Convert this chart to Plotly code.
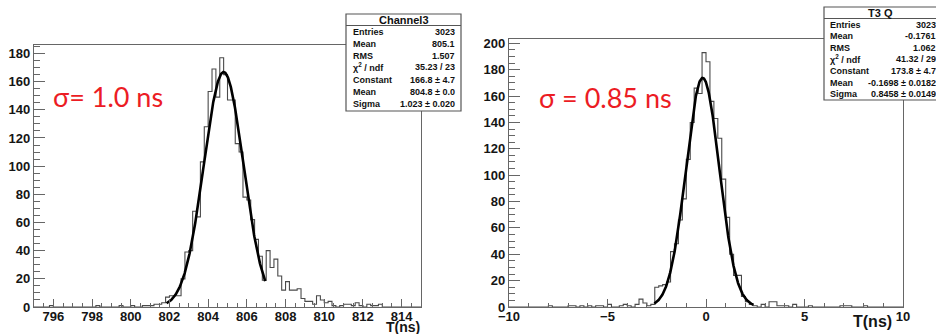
import numpy as np
import plotly.graph_objects as go

W, H = 936, 334

# ---------------- data ----------------
# Left histogram: 100 bins of 0.2 ns from 795 to 815 ns
left_bin_lo = 795.0
left_bin_width = 0.2
left_counts = [
    0, 0, 0, 0, 1, 0, 0, 0, 0, 0,
    0, 0, 0, 0, 0, 0, 1, 0, 0, 0,
    0, 0, 1, 0, 0, 1, 0, 0, 1, 1,
    1, 2, 2, 3, 7, 8, 8, 8, 20, 39,
    40, 68, 64, 103, 128, 153, 169, 149, 177, 165,
    147, 147, 116, 110, 78, 76, 62, 48, 36, 19,
    40, 28, 34, 22, 12, 18, 12, 12, 13, 6,
    4, 4, 2, 8, 5, 3, 4, 1, 0, 1,
    2, 2, 1, 3, 1, 0, 2, 1, 1, 2,
    0, 0, 0, 0, 0, 0, 0, 0, 0, 0,
]
# Right histogram: 100 bins of 0.2 ns from -10 to 10 ns
right_bin_lo = -10.0
right_bin_width = 0.2
right_counts = [
    0, 0, 0, 0, 0, 0, 0, 0, 0, 0,
    1, 0, 0, 0, 0, 1, 1, 0, 1, 0,
    1, 0, 1, 1, 0, 2, 0, 0, 1, 2,
    1, 0, 2, 6, 3, 1, 2, 15, 16, 17,
    19, 42, 48, 66, 82, 112, 140, 166, 162, 193,
    186, 156, 143, 128, 97, 68, 40, 24, 24, 8,
    4, 2, 1, 0, 2, 0, 4, 4, 1, 1,
    1, 0, 2, 0, 0, 0, 1, 0, 0, 0,
    0, 0, 0, 0, 1, 1, 1, 0, 0, 0,
    1, 0, 0, 0, 0, 0, 0, 0, 0, 0,
]

# Gaussian fit parameters (from the stat boxes) and drawn fit ranges
left_fit_constant, left_fit_mean, left_fit_sigma = 166.8, 804.8, 1.023
left_fit_range = [801.85, 806.95]
right_fit_constant, right_fit_mean, right_fit_sigma = 173.8, -0.1698, 0.8458
right_fit_range = [-2.62, 2.4]

# Axis settings
left_x_range = [795, 815]
left_y_range = [0, 186]
right_x_range = [-10, 10]
right_y_range = [0, 203.3]

# Stat boxes
left_stats_title = "Channel3"
left_stats_labels = ["Entries", "Mean", "RMS", "χ<sup>2</sup> / ndf", "Constant", "Mean", "Sigma"]
left_stats_values = ["3023", "805.1", "1.507", "35.23 / 23", "166.8 ± 4.7", "804.8 ± 0.0", "1.023 ± 0.020"]
right_stats_title = "T3 Q"
right_stats_labels = ["Entries", "Mean", "RMS", "χ<sup>2</sup> / ndf", "Constant", "Mean", "Sigma"]
right_stats_values = ["3023", "-0.1761", "1.062", "41.32 / 29", "173.8 ± 4.7", "-0.1698 ± 0.0182", "0.8458 ± 0.0149"]

left_note = "σ= 1.0 ns"
right_note = "σ = 0.85 ns"
axis_title = "T(ns)"

# ---------------- helpers ----------------
def px(x):
    return x / W

def py(y):
    return 1 - y / H

def step_xy(lo, w, counts):
    xs, ys = [lo], [0]
    for i, c in enumerate(counts):
        xs.append(lo + i * w)
        ys.append(c)
    end = lo + len(counts) * w
    xs += [end, end]
    ys += [counts[-1], 0]
    return xs, ys

def gauss_curve(c, m, s, rng):
    x = np.linspace(rng[0], rng[1], 300)
    return x, c * np.exp(-0.5 * ((x - m) / s) ** 2)

fig = go.Figure()

HCOL = "#4a4a4a"
lx, ly = step_xy(left_bin_lo, left_bin_width, left_counts)
fig.add_trace(go.Scatter(x=lx, y=ly, mode="lines", line=dict(color=HCOL, width=1.1, shape="hv"),
                         xaxis="x", yaxis="y", showlegend=False))
fx, fy = gauss_curve(left_fit_constant, left_fit_mean, left_fit_sigma, left_fit_range)
fig.add_trace(go.Scatter(x=fx, y=fy, mode="lines", line=dict(color="black", width=2.6),
                         xaxis="x", yaxis="y", showlegend=False))

rx, ry = step_xy(right_bin_lo, right_bin_width, right_counts)
fig.add_trace(go.Scatter(x=rx, y=ry, mode="lines", line=dict(color=HCOL, width=1.1, shape="hv"),
                         xaxis="x2", yaxis="y2", showlegend=False))
gx, gy = gauss_curve(right_fit_constant, right_fit_mean, right_fit_sigma, right_fit_range)
fig.add_trace(go.Scatter(x=gx, y=gy, mode="lines", line=dict(color="black", width=2.6),
                         xaxis="x2", yaxis="y2", showlegend=False))

FR = "#666666"
TICKFONT = dict(family="Liberation Sans, Arial, sans-serif", size=13, color="#151515", weight="bold")

def xaxis(domain, rng, dtick, tick0, mdtick, anchor):
    return dict(domain=domain, range=rng, anchor=anchor, showgrid=False, zeroline=False,
                showline=True, linecolor=FR, linewidth=1.2, mirror=True, automargin=False,
                ticks="inside", ticklen=8, tickwidth=1, tickcolor=FR, ticklabelstandoff=-3,
                dtick=dtick, tick0=tick0, tickfont=TICKFONT,
                minor=dict(ticks="inside", ticklen=4, dtick=mdtick, tick0=rng[0], tickcolor=FR, showgrid=False))

def yaxis(domain, rng, anchor):
    return dict(domain=domain, range=rng, anchor=anchor, showgrid=False, zeroline=False,
                showline=True, linecolor=FR, linewidth=1.2, mirror=True, automargin=False,
                ticks="inside", ticklen=11, tickwidth=1, tickcolor=FR,
                dtick=20, tick0=0, tickfont=TICKFONT,
                minor=dict(ticks="inside", ticklen=6, dtick=5, tick0=0, tickcolor=FR, showgrid=False))

fig.update_layout(
    width=W, height=H, autosize=False,
    margin=dict(l=0, r=0, t=0, b=0, pad=0, autoexpand=False),
    paper_bgcolor="white", plot_bgcolor="white",
    xaxis=xaxis([px(34), px(421)], left_x_range, 2, 796, 0.5, "y"),
    yaxis=yaxis([py(307), py(45)], left_y_range, "x"),
    xaxis2=xaxis([px(509), px(903)], right_x_range, 5, -10, 1, "y2"),
    yaxis2=yaxis([py(307), py(39)], right_y_range, "x2"),
)

annotations = []
shapes = []

STATFONT = dict(family="Liberation Sans, Arial, sans-serif", size=9, color="#111", weight="bold")

def stat_box(x0, x1, y0, y1, ysep, title_y, title_x, rows_y, lab_x, val_x, title, labels, values):
    shapes.append(dict(type="rect", xref="paper", yref="paper", x0=px(x0), x1=px(x1), y0=py(y1), y1=py(y0),
                       line=dict(color="#555", width=1.2), fillcolor="white", layer="above"))
    shapes.append(dict(type="line", xref="paper", yref="paper", x0=px(x0), x1=px(x1), y0=py(ysep), y1=py(ysep),
                       line=dict(color="#555", width=1), layer="above"))
    annotations.append(dict(xref="paper", yref="paper", x=px(title_x), y=py(title_y), text=title,
                            showarrow=False, xanchor="center", yanchor="middle",
                            font=dict(family="Liberation Sans, Arial, sans-serif", size=11, color="#111", weight="bold")))
    for yy, lab, val in zip(rows_y, labels, values):
        annotations.append(dict(xref="paper", yref="paper", x=px(lab_x), y=py(yy), text=lab,
                                showarrow=False, xanchor="left", yanchor="middle", font=STATFONT))
        annotations.append(dict(xref="paper", yref="paper", x=px(val_x), y=py(yy), text=val,
                                showarrow=False, xanchor="right", yanchor="middle", font=STATFONT))

stat_box(346, 461, 14, 111, 25.5, 20, 403.5, [32, 44, 56, 67, 80, 92, 104], 351, 457,
         left_stats_title, left_stats_labels, left_stats_values)
stat_box(824, 960, 7, 100, 18.5, 13, 880, [24.5, 36, 47.5, 58.5, 71, 82.5, 94], 828, 938,
         right_stats_title, right_stats_labels, right_stats_values)

RED = "#ec1c24"
annotations.append(dict(xref="paper", yref="paper", x=px(51), y=py(96), text=left_note, showarrow=False,
                        xanchor="left", yanchor="middle",
                        font=dict(family="Lato, Open Sans, sans-serif", size=27, color=RED)))
annotations.append(dict(xref="paper", yref="paper", x=px(537), y=py(97), text=right_note, showarrow=False,
                        xanchor="left", yanchor="middle",
                        font=dict(family="Lato, Open Sans, sans-serif", size=27, color=RED)))

annotations.append(dict(xref="paper", yref="paper", x=px(422), y=py(326.5), text=axis_title, showarrow=False,
                        xanchor="right", yanchor="middle",
                        font=dict(family="Liberation Sans, Arial, sans-serif", size=14, color="#151515", weight="bold")))
annotations.append(dict(xref="paper", yref="paper", x=px(894), y=py(321), text=axis_title, showarrow=False,
                        xanchor="right", yanchor="middle",
                        font=dict(family="Liberation Sans, Arial, sans-serif", size=16, color="#151515", weight="bold")))

fig.update_layout(annotations=annotations, shapes=shapes)

fig.write_html("out.html",
               config={"displayModeBar": False, "staticPlot": True},
               post_script="document.body.style.margin='0';document.body.style.overflow='hidden';")
